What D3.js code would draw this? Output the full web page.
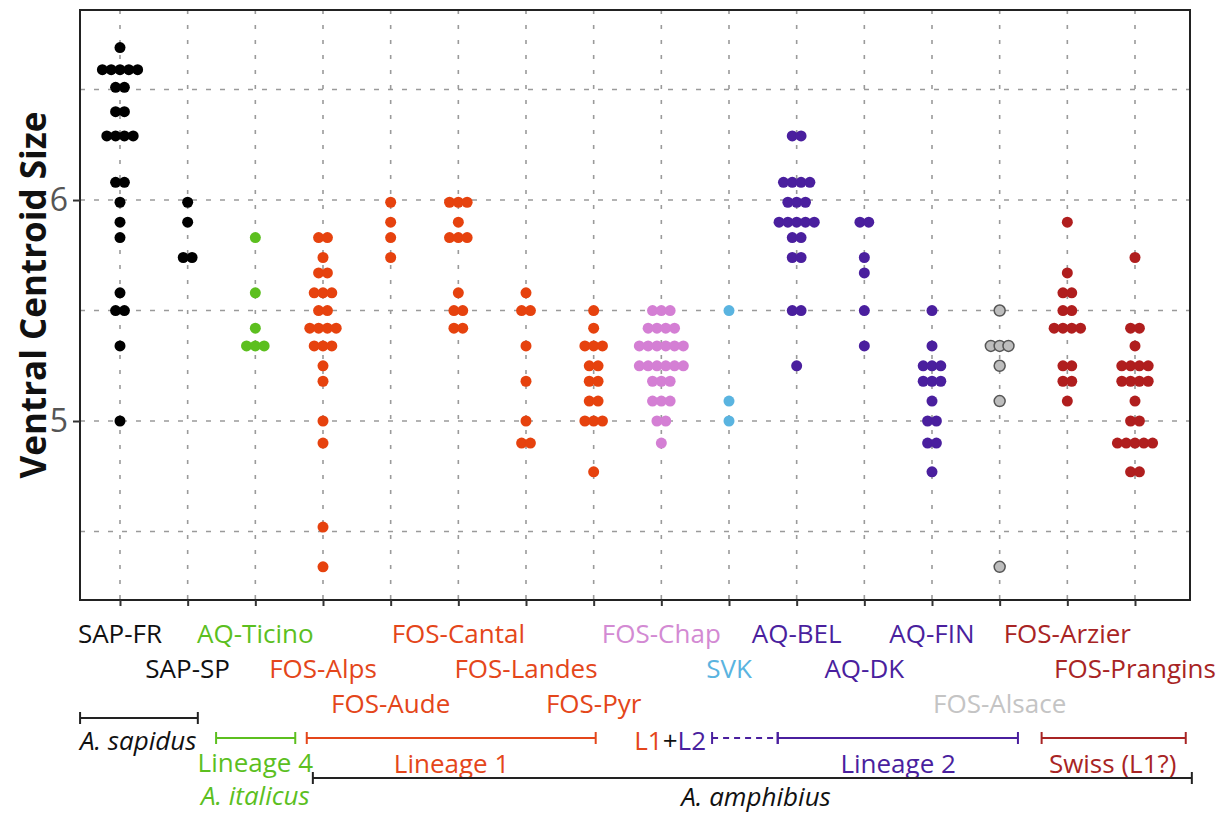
<!DOCTYPE html>
<html>
<head>
<meta charset="utf-8">
<script src="https://cdn.jsdelivr.net/npm/d3@7"></script>
<style>
  body { margin: 0; background: #fff; }
  text { font-family: "Open Sans", sans-serif; }
</style>
</head>
<body>
<div id="chart"></div>
<script>
// categories, left to right
var categories = ["SAP-FR", "SAP-SP", "AQ-Ticino", "FOS-Alps", "FOS-Aude", "FOS-Cantal",
  "FOS-Landes", "FOS-Pyr", "FOS-Chap", "SVK", "AQ-BEL", "AQ-DK", "AQ-FIN",
  "FOS-Alsace", "FOS-Arzier", "FOS-Prangins"];

// label row (0 = top row, 2 = bottom row) for the staggered axis labels
var labelRows = [0, 1, 0, 1, 2, 0, 1, 2, 0, 1, 0, 1, 0, 2, 0, 1];

var colors = ["#000000", "#000000", "#5cbf1f", "#e6420e", "#e6420e", "#e6420e",
  "#e6420e", "#e6420e", "#d47fd4", "#5ab4e0", "#4a1f9e", "#4a1f9e", "#4a1f9e",
  "#bdbdbd", "#b01e1e", "#b01e1e"];

var labelColors = ["#111111", "#111111", "#5cbf1f", "#e4461a", "#e4461a", "#e4461a",
  "#e4461a", "#e4461a", "#d38ad3", "#5ab4e0", "#4a1f9e", "#4a1f9e", "#4a1f9e",
  "#c4c4c4", "#a82424", "#a82424"];

// one value per specimen (ventral centroid size)
var sapFR = [6.69, 6.59, 6.59, 6.59, 6.59, 6.59, 6.51, 6.51, 6.40, 6.40, 6.29, 6.29, 6.29, 6.29,
  6.08, 6.08, 5.99, 5.90, 5.83, 5.58, 5.50, 5.50, 5.34, 5.00];
var sapSP = [5.99, 5.90, 5.74, 5.74];
var aqTicino = [5.83, 5.58, 5.42, 5.34, 5.34, 5.34];
var fosAlps = [5.83, 5.83, 5.74, 5.67, 5.67, 5.58, 5.58, 5.58, 5.50, 5.50, 5.42, 5.42, 5.42, 5.42,
  5.34, 5.34, 5.34, 5.25, 5.18, 5.00, 4.90, 4.52, 4.34];
var fosAude = [5.99, 5.90, 5.83, 5.74];
var fosCantal = [5.99, 5.99, 5.99, 5.90, 5.83, 5.83, 5.83, 5.58, 5.50, 5.50, 5.42, 5.42];
var fosLandes = [5.58, 5.50, 5.50, 5.34, 5.18, 5.00, 4.90, 4.90];
var fosPyr = [5.50, 5.42, 5.34, 5.34, 5.34, 5.25, 5.25, 5.18, 5.18, 5.09, 5.09, 5.00, 5.00, 5.00, 4.77];
var fosChap = [5.50, 5.50, 5.50, 5.42, 5.42, 5.42, 5.42, 5.34, 5.34, 5.34, 5.34, 5.34, 5.34,
  5.25, 5.25, 5.25, 5.25, 5.25, 5.25, 5.18, 5.18, 5.18, 5.09, 5.09, 5.09, 5.00, 5.00, 4.90];
var svk = [5.50, 5.09, 5.00];
var aqBEL = [6.29, 6.29, 6.08, 6.08, 6.08, 6.08, 5.99, 5.99, 5.99, 5.90, 5.90, 5.90, 5.90, 5.90,
  5.83, 5.83, 5.74, 5.74, 5.50, 5.50, 5.25];
var aqDK = [5.90, 5.90, 5.74, 5.67, 5.50, 5.34];
var aqFIN = [5.50, 5.34, 5.25, 5.25, 5.25, 5.18, 5.18, 5.18, 5.09, 5.00, 5.00, 4.90, 4.90, 4.77];
var fosAlsace = [5.50, 5.34, 5.34, 5.34, 5.25, 5.09, 4.34];
var fosArzier = [5.90, 5.67, 5.58, 5.58, 5.50, 5.50, 5.42, 5.42, 5.42, 5.42, 5.25, 5.25, 5.18, 5.18, 5.09];
var fosPrangins = [5.74, 5.42, 5.42, 5.34, 5.25, 5.25, 5.25, 5.25, 5.18, 5.18, 5.18, 5.18, 5.09,
  5.00, 5.00, 4.90, 4.90, 4.90, 4.90, 4.90, 4.77, 4.77];

var series = [sapFR, sapSP, aqTicino, fosAlps, fosAude, fosCantal, fosLandes, fosPyr, fosChap,
  svk, aqBEL, aqDK, aqFIN, fosAlsace, fosArzier, fosPrangins];

var yTicks = [5, 6];
var yGrid = [4.5, 5, 5.5, 6, 6.5];

var width = 1228, height = 814;
var plot = {left: 80, right: 1190, top: 10, bottom: 600};

var svg = d3.select("#chart").append("svg")
    .attr("width", width)
    .attr("height", height);

var x = d3.scalePoint()
    .domain(categories)
    .range([120, 1135]);

// category index -> pixel, used for the group brackets under the axis
var xi = d3.scaleLinear()
    .domain([0, categories.length - 1])
    .range([120, 1135]);

var y = d3.scaleLinear()
    .domain([4.19, 6.86])
    .range([plot.bottom, plot.top]);

// grid
var grid = svg.append("g")
    .attr("stroke", "#9a9a9a")
    .attr("stroke-width", 1.6)
    .attr("stroke-dasharray", "5,9");

grid.selectAll("line.h")
    .data(yGrid)
    .enter().append("line")
    .attr("class", "h")
    .attr("x1", plot.left)
    .attr("x2", plot.right)
    .attr("y1", function (d) { return y(d); })
    .attr("y2", function (d) { return y(d); });

grid.selectAll("line.v")
    .data(categories)
    .enter().append("line")
    .attr("class", "v")
    .attr("x1", function (d) { return x(d); })
    .attr("x2", function (d) { return x(d); })
    .attr("y1", plot.top)
    .attr("y2", plot.bottom)
    .attr("stroke-dasharray", "4,11");

// dots: stack equal values side by side, centred on the category
var step = 8.8, r = 5.5;
var dots = [];
series.forEach(function (vals, ci) {
    var groups = d3.group(vals, function (v) { return v; });
    groups.forEach(function (list, v) {
        var n = list.length;
        list.forEach(function (d, k) {
            dots.push({ci: ci, v: v, off: (k - (n - 1) / 2) * step});
        });
    });
});

svg.append("g").selectAll("circle")
    .data(dots)
    .enter().append("circle")
    .attr("cx", function (d) { return x(categories[d.ci]) + d.off; })
    .attr("cy", function (d) { return y(d.v); })
    .attr("r", r)
    .attr("fill", function (d) { return colors[d.ci]; })
    .attr("stroke", function (d) { return categories[d.ci] == "FOS-Alsace" ? "#555" : "none"; })
    .attr("stroke-width", 1.5);

// frame
svg.append("rect")
    .attr("x", plot.left)
    .attr("y", plot.top)
    .attr("width", plot.right - plot.left)
    .attr("height", plot.bottom - plot.top)
    .attr("fill", "none")
    .attr("stroke", "#222")
    .attr("stroke-width", 2);

// y axis
var yAxis = svg.append("g")
    .attr("transform", "translate(" + plot.left + ",0)")
    .call(d3.axisLeft(y).tickValues(yTicks).tickSize(7).tickPadding(5).tickFormat(d3.format("d")));
yAxis.select(".domain").remove();
yAxis.selectAll("line").attr("stroke", "#333").attr("stroke-width", 2);
yAxis.selectAll("text")
    .attr("font-size", 32)
    .attr("fill", "#555")
    .attr("font-family", "Open Sans, sans-serif");

svg.append("text")
    .attr("transform", "translate(46,295) rotate(-90)")
    .attr("text-anchor", "middle")
    .attr("font-size", 35)
    .attr("font-weight", "bold")
    .attr("fill", "#111")
    .text("Ventral Centroid Size");

// x axis ticks
var xAxis = svg.append("g")
    .attr("transform", "translate(0," + plot.bottom + ")")
    .call(d3.axisBottom(x).tickSize(6).tickFormat(""));
xAxis.select(".domain").remove();
xAxis.selectAll("line").attr("stroke", "#333").attr("stroke-width", 2);

// staggered category labels
var rowBase = [643, 678, 713];
svg.append("g").selectAll("text")
    .data(categories)
    .enter().append("text")
    .attr("x", function (d) { return x(d); })
    .attr("y", function (d, i) { return rowBase[labelRows[i]]; })
    .attr("text-anchor", "middle")
    .attr("font-size", 26)
    .attr("fill", function (d, i) { return labelColors[i]; })
    .text(function (d) { return d; });

// group brackets
function bracket(a, b, yy, color, dashed) {
    var g = svg.append("g").attr("stroke", color).attr("stroke-width", 2);
    g.append("line").attr("x1", xi(a)).attr("x2", xi(b)).attr("y1", yy).attr("y2", yy)
        .attr("stroke-dasharray", dashed ? "6,5" : null);
    g.append("line").attr("x1", xi(a)).attr("x2", xi(a)).attr("y1", yy - 6).attr("y2", yy + 6);
    g.append("line").attr("x1", xi(b)).attr("x2", xi(b)).attr("y1", yy - 6).attr("y2", yy + 6);
}

function label(str, cx, yy, color, italic) {
    svg.append("text")
        .attr("x", xi(cx))
        .attr("y", yy)
        .attr("text-anchor", "middle")
        .attr("font-size", 26)
        .attr("font-style", italic ? "italic" : null)
        .attr("fill", color)
        .text(str);
}

bracket(-0.59, 1.15, 718, "#222", false);
label("A. sapidus", 0.27, 750, "#111", true);

bracket(1.42, 2.59, 738, "#5cbf1f", false);
label("Lineage 4", 2.0, 772, "#5cbf1f", false);
label("A. italicus", 2.0, 805, "#5cbf1f", true);

bracket(2.76, 7.03, 738, "#e4461a", false);
label("Lineage 1", 4.9, 773, "#e4461a", false);

bracket(8.75, 9.72, 738, "#4a1f9e", true);
bracket(9.72, 13.27, 738, "#4a1f9e", false);
label("Lineage 2", 11.5, 773, "#4a1f9e", false);

var l12 = svg.append("text")
    .attr("x", xi(8.13))
    .attr("y", 750)
    .attr("text-anchor", "middle")
    .attr("font-size", 26);
l12.append("tspan").attr("fill", "#e4461a").text("L1");
l12.append("tspan").attr("fill", "#111").text("+");
l12.append("tspan").attr("fill", "#4a1f9e").text("L2");

bracket(13.62, 15.75, 738, "#a82424", false);
label("Swiss (L1?)", 14.67, 773, "#a82424", false);

bracket(2.85, 15.84, 778, "#222", false);
label("A. amphibius", 9.4, 806, "#111", true);
</script>
</body>
</html>
